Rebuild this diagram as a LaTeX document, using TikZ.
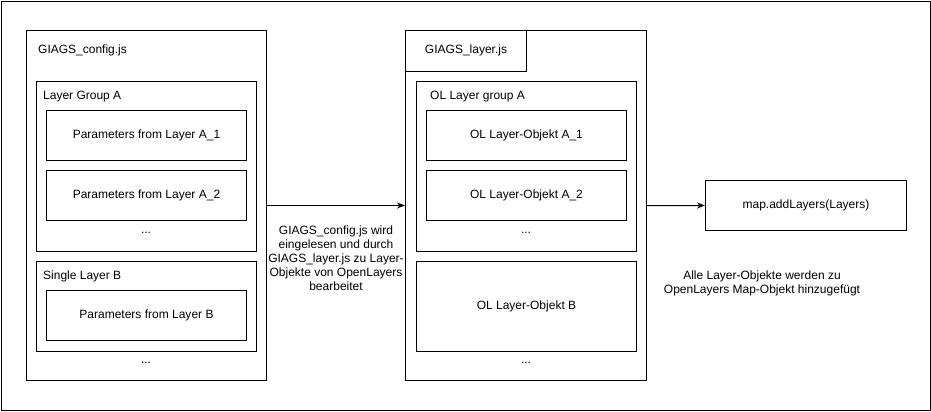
\documentclass[tikz,border=0pt]{standalone}
\usepackage{fontspec}
\setmainfont{Liberation Sans}
\usetikzlibrary{arrows.meta}
\tikzset{
  box/.style={draw=black, line width=1bp, inner sep=0pt, anchor=north west, fill=white},
  lbl/.style={inner sep=0pt, anchor=west, font=\fontsize{12bp}{14bp}\selectfont},
  ctext/.style={inner sep=0pt, align=center, font=\fontsize{12bp}{14bp}\selectfont},
  conn/.style={draw=black, line width=1bp, -{Stealth[length=8bp,width=6bp,inset=2.5bp]}},
}
\begin{document}
\begin{tikzpicture}[x=1bp,y=-1bp]
\useasboundingbox (0,0) rectangle (931,411);
% outer frame
\node[box, minimum width=929bp, minimum height=409bp] (frame) at (1,1) {};
% left: GIAGS_config.js
\node[box, minimum width=240bp, minimum height=350bp] (cfg) at (26,30) {};
\node[lbl] (cfgt) at (38,50) {GIAGS\_config.js};
\node[box, minimum width=220bp, minimum height=170bp] (grpA) at (36,80.5) {};
\node[lbl] (grpAt) at (43,97) {Layer Group A};
\node[box, minimum width=200bp, minimum height=50bp] (pA1) at (46,110) {};
\node[ctext] at (pA1.center) {Parameters from Layer A\_1};
\node[box, minimum width=200bp, minimum height=50bp] (pA2) at (46,170) {};
\node[ctext] at (pA2.center) {Parameters from Layer A\_2};
\node[ctext] (dotsA) at (146,233) {...};
\node[box, minimum width=220bp, minimum height=90bp] (sglB) at (36,260.5) {};
\node[lbl] (sglBt) at (43,276) {Single Layer B};
\node[box, minimum width=200bp, minimum height=50bp] (pB) at (46,290) {};
\node[ctext] at (pB.center) {Parameters from Layer B};
\node[ctext] (dotsL) at (146,363) {...};
% middle: GIAGS_layer.js
\node[box, minimum width=241bp, minimum height=350bp] (lay) at (405,30) {};
\node[box, minimum width=121bp, minimum height=40.5bp] (layTab) at (405,30) {};
\node[ctext] at (layTab.center) {GIAGS\_layer.js};
\node[box, minimum width=220bp, minimum height=170bp] (olA) at (416,80.5) {};
\node[lbl] (olAt) at (430,97) {OL Layer group A};
\node[box, minimum width=200bp, minimum height=50bp] (olA1) at (426,110) {};
\node[ctext] at (olA1.center) {OL Layer-Objekt A\_1};
\node[box, minimum width=200bp, minimum height=50bp] (olA2) at (426,170) {};
\node[ctext] at (olA2.center) {OL Layer-Objekt A\_2};
\node[ctext] (dotsO) at (526,233) {...};
\node[box, minimum width=220bp, minimum height=90bp] (olB) at (416,260.5) {};
\node[ctext] at (olB.center) {OL Layer-Objekt B};
\node[ctext] (dotsM) at (526,363) {...};
% right: map
\node[box, minimum width=201bp, minimum height=50bp] (map) at (705,180) {};
\node[ctext] at (map.center) {map.addLayers(Layers)};
% connectors
\draw[conn] (cfg.east) -- (lay.west);
\draw[conn] (lay.east) -- (map.west);
% descriptions
\node[ctext, anchor=north] (desc1) at (336,226) {GIAGS\_config.js wird\\eingelesen und durch\\GIAGS\_layer.js zu Layer-\\Objekte von OpenLayers\\bearbeitet};
\node[ctext, anchor=north] (desc2) at (762,271) {Alle Layer-Objekte werden zu\\OpenLayers Map-Objekt hinzugefügt};
\end{tikzpicture}
\end{document}
